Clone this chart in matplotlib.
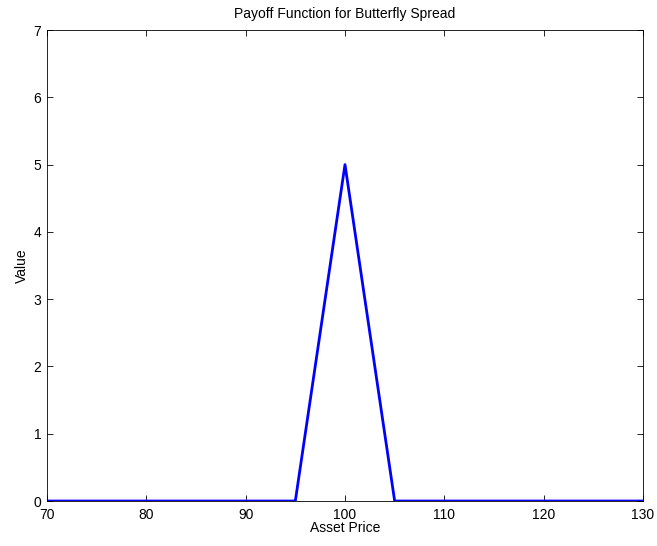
import matplotlib
matplotlib.use("Agg")
import matplotlib.pyplot as plt

# asset prices and butterfly payoff
price = [70, 95, 100, 105, 130]
payoff = [0, 0, 5, 0, 0]

plt.rcParams['font.family'] = ['Liberation Sans', 'DejaVu Sans']
plt.rcParams['font.size'] = 10

fig = plt.figure(figsize=(6.57, 5.46), dpi=100)
ax = fig.add_axes([0.0715, 0.0824, 0.9072, 0.8626])
ax.plot(price, payoff, color=(0, 0, 1), linewidth=2)

ax.set_xlim(70, 130)
ax.set_ylim(0, 7)
ax.set_xticks(range(70, 131, 10))
ax.set_yticks(range(0, 8))
ax.tick_params(direction='in', top=True, right=True, length=4, width=0.6,
               labelsize=10)
ax.tick_params(axis='x', pad=5)
ax.tick_params(axis='y', pad=4)
for s in ax.spines.values():
    s.set_linewidth(0.6)

ax.set_title("Payoff Function for Butterfly Spread", fontsize=10, pad=9)
ax.set_xlabel("Asset Price", labelpad=-1)
ax.set_ylabel("Value", labelpad=3)

fig.savefig("out.png", dpi=100)
